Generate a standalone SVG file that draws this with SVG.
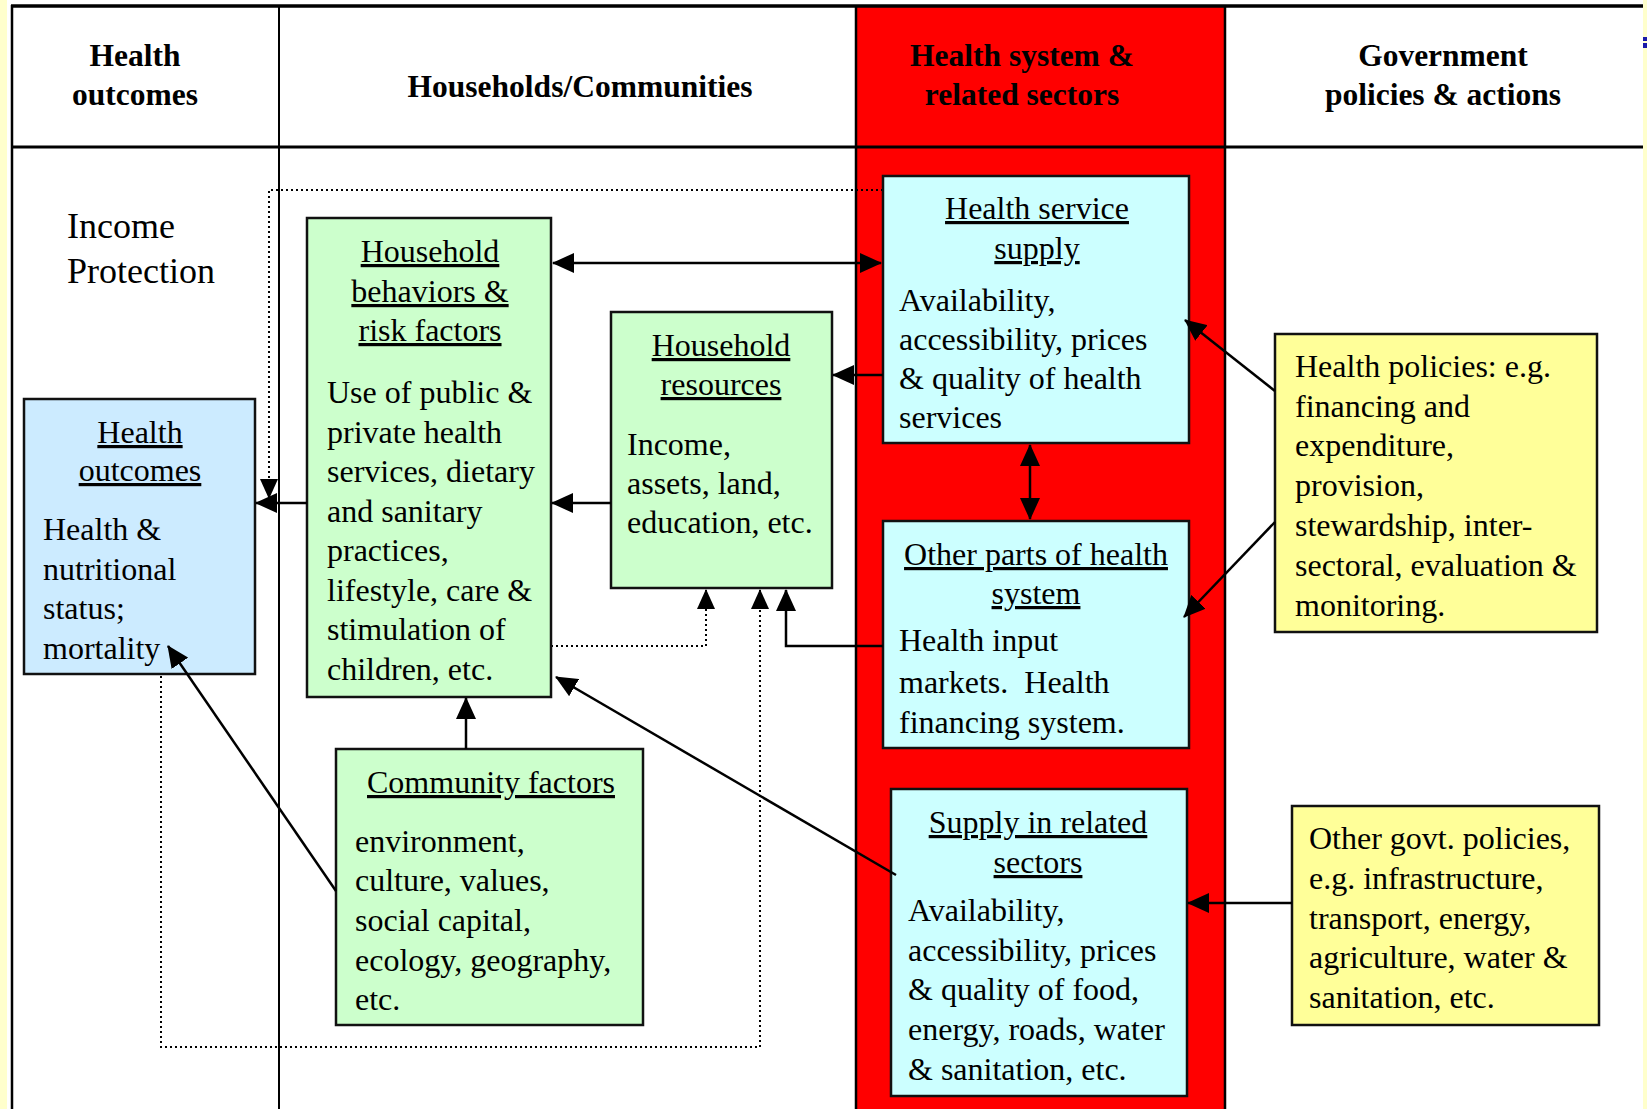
<svg xmlns="http://www.w3.org/2000/svg" width="1647" height="1109" viewBox="0 0 1647 1109">
<style>
.hdr{font-family:"Liberation Serif","Times New Roman",serif;font-weight:bold;font-size:31.5px;fill:#000;text-anchor:middle}
.t{font-family:"Liberation Serif","Times New Roman",serif;font-size:32px;fill:#000}
.big{font-family:"Liberation Serif","Times New Roman",serif;font-size:36px;fill:#000}
.ttl{font-family:"Liberation Serif","Times New Roman",serif;font-size:32px;fill:#000;text-anchor:middle;text-decoration:underline}
.box{stroke:#111;stroke-width:2.5}
.green{fill:#CCFFCC}
.cyan{fill:#CCFFFF}
.blue{fill:#CCEBFF}
.yel{fill:#FFFF99}
.conn{fill:none;stroke:#000;stroke-width:2.5}
.dot{fill:none;stroke:#000;stroke-width:2;stroke-dasharray:2 3}
.grid{stroke:#000;fill:none}
</style>
<defs>
<marker id="ah" markerUnits="userSpaceOnUse" markerWidth="22" markerHeight="20" refX="21" refY="10" orient="auto-start-reverse" viewBox="0 0 22 20">
<path d="M0,0 L22,10 L0,20 z" fill="#000"/>
</marker>
<marker id="ahs" markerUnits="userSpaceOnUse" markerWidth="20" markerHeight="18" refX="19" refY="9" orient="auto" viewBox="0 0 20 18">
<path d="M0,0 L20,9 L0,18 z" fill="#000"/>
</marker>
</defs>
<rect x="0" y="0" width="1647" height="1109" fill="#FFFFFF"/>
<rect x="0" y="0" width="7" height="1109" fill="#FFFFCC"/>
<rect x="1643" y="0" width="4" height="1109" fill="#FFFFCC"/>
<rect x="1643" y="37" width="4" height="4" fill="#1a1aa8"/>
<rect x="1643" y="43" width="4" height="5" fill="#1a1aa8"/>

<g id="table">
<rect x="856" y="6" width="369" height="1103" fill="#FF0000"/>
<line class="grid" x1="11" y1="6" x2="1643" y2="6" stroke-width="3.5"/>
<line class="grid" x1="11" y1="147" x2="1643" y2="147" stroke-width="3"/>
<line class="grid" x1="12" y1="5" x2="12" y2="1109" stroke-width="2.5"/>
<line class="grid" x1="279" y1="5" x2="279" y2="1109" stroke-width="2"/>
<line class="grid" x1="856" y1="5" x2="856" y2="1109" stroke-width="2.5"/>
<line class="grid" x1="1225" y1="5" x2="1225" y2="1109" stroke-width="2.5"/>
<text class="hdr" x="135" y="66">Health</text>
<text class="hdr" x="135" y="105">outcomes</text>
<text class="hdr" x="580" y="97">Households/Communities</text>
<text class="hdr" x="1022" y="66">Health system &amp;</text>
<text class="hdr" x="1022" y="105">related sectors</text>
<text class="hdr" x="1443" y="66">Government</text>
<text class="hdr" x="1443" y="105">policies &amp; actions</text>
<text class="big" x="67" y="238">Income</text>
<text class="big" x="67" y="283">Protection</text>
</g>

<g id="dotted-connectors">
<path class="dot" d="M883,190 H269 V498" marker-end="url(#ahs)"/>
<path class="dot" d="M551,646 H706 V590" marker-end="url(#ahs)"/>
<path class="dot" d="M161,636 V1047 H760 V590" marker-end="url(#ahs)"/>
</g>

<g id="node-health-outcomes">
<rect class="box blue" x="24" y="399" width="231" height="275"/>
<text class="ttl" x="140" y="443">Health</text>
<text class="ttl" x="140" y="481">outcomes</text>
<text class="t" x="43" y="540">Health &amp;</text>
<text class="t" x="43" y="580">nutritional</text>
<text class="t" x="43" y="619">status;</text>
<text class="t" x="43" y="659">mortality</text>
</g>

<g id="node-household-behaviors">
<rect class="box green" x="307" y="218" width="244" height="479"/>
<text class="ttl" x="430" y="262">Household</text>
<text class="ttl" x="430" y="302">behaviors &amp;</text>
<text class="ttl" x="430" y="341">risk factors</text>
<text class="t" x="327" y="403">Use of public &amp;</text>
<text class="t" x="327" y="443">private health</text>
<text class="t" x="327" y="482">services, dietary</text>
<text class="t" x="327" y="522">and sanitary</text>
<text class="t" x="327" y="561">practices,</text>
<text class="t" x="327" y="601">lifestyle, care &amp;</text>
<text class="t" x="327" y="640">stimulation of</text>
<text class="t" x="327" y="680">children, etc.</text>
</g>

<g id="node-household-resources">
<rect class="box green" x="611" y="312" width="221" height="276"/>
<text class="ttl" x="721" y="356">Household</text>
<text class="ttl" x="721" y="395">resources</text>
<text class="t" x="627" y="455">Income,</text>
<text class="t" x="627" y="494">assets, land,</text>
<text class="t" x="627" y="533">education, etc.</text>
</g>

<g id="node-community-factors">
<rect class="box green" x="336" y="749" width="307" height="276"/>
<text class="ttl" x="491" y="793">Community factors</text>
<text class="t" x="355" y="852">environment,</text>
<text class="t" x="355" y="891">culture, values,</text>
<text class="t" x="355" y="931">social capital,</text>
<text class="t" x="355" y="971">ecology, geography,</text>
<text class="t" x="355" y="1010">etc.</text>
</g>

<g id="node-health-service-supply">
<rect class="box cyan" x="883" y="176" width="306" height="267"/>
<text class="ttl" x="1037" y="219">Health service</text>
<text class="ttl" x="1037" y="259">supply</text>
<text class="t" x="899" y="311">Availability,</text>
<text class="t" x="899" y="350">accessibility, prices</text>
<text class="t" x="899" y="389">&amp; quality of health</text>
<text class="t" x="899" y="428">services</text>
</g>

<g id="node-other-parts">
<rect class="box cyan" x="883" y="521" width="306" height="227"/>
<text class="ttl" x="1036" y="565">Other parts of health</text>
<text class="ttl" x="1036" y="604">system</text>
<text class="t" x="899" y="651">Health input</text>
<text class="t" x="899" y="693" style="white-space:pre">markets.  Health</text>
<text class="t" x="899" y="733">financing system.</text>
</g>

<g id="node-supply-related">
<rect class="box cyan" x="891" y="789" width="296" height="307"/>
<text class="ttl" x="1038" y="833">Supply in related</text>
<text class="ttl" x="1038" y="873">sectors</text>
<text class="t" x="908" y="921">Availability,</text>
<text class="t" x="908" y="961">accessibility, prices</text>
<text class="t" x="908" y="1000">&amp; quality of food,</text>
<text class="t" x="908" y="1040">energy, roads, water</text>
<text class="t" x="908" y="1080">&amp; sanitation, etc.</text>
</g>

<g id="node-health-policies">
<rect class="box yel" x="1275" y="334" width="322" height="298"/>
<text class="t" x="1295" y="377">Health policies: e.g.</text>
<text class="t" x="1295" y="417">financing and</text>
<text class="t" x="1295" y="456">expenditure,</text>
<text class="t" x="1295" y="496">provision,</text>
<text class="t" x="1295" y="536">stewardship, inter-</text>
<text class="t" x="1295" y="576">sectoral, evaluation &amp;</text>
<text class="t" x="1295" y="616">monitoring.</text>
</g>

<g id="node-other-govt">
<rect class="box yel" x="1292" y="806" width="307" height="219"/>
<text class="t" x="1309" y="849">Other govt. policies,</text>
<text class="t" x="1309" y="889">e.g. infrastructure,</text>
<text class="t" x="1309" y="929">transport, energy,</text>
<text class="t" x="1309" y="968">agriculture, water &amp;</text>
<text class="t" x="1309" y="1008">sanitation, etc.</text>
</g>

<g id="connectors">
<line class="conn" x1="553" y1="263" x2="881" y2="263" marker-start="url(#ah)" marker-end="url(#ah)"/>
<line class="conn" x1="883" y1="375" x2="833" y2="375" marker-end="url(#ah)"/>
<line class="conn" x1="1030" y1="445" x2="1030" y2="519" marker-start="url(#ah)" marker-end="url(#ah)"/>
<path class="conn" d="M883,646 H786 V590" marker-end="url(#ah)"/>
<line class="conn" x1="611" y1="503" x2="552" y2="503" marker-end="url(#ah)"/>
<line class="conn" x1="307" y1="503" x2="256" y2="503" marker-end="url(#ah)"/>
<line class="conn" x1="466" y1="749" x2="466" y2="698" marker-end="url(#ah)"/>
<line class="conn" x1="336" y1="891" x2="168" y2="646" marker-end="url(#ah)"/>
<line class="conn" x1="896" y1="875" x2="556" y2="677" marker-end="url(#ah)"/>
<line class="conn" x1="1275" y1="391" x2="1185" y2="320" marker-end="url(#ah)"/>
<line class="conn" x1="1275" y1="522" x2="1184" y2="617" marker-end="url(#ah)"/>
<line class="conn" x1="1292" y1="903" x2="1188" y2="903" marker-end="url(#ah)"/>
</g>
</svg>
